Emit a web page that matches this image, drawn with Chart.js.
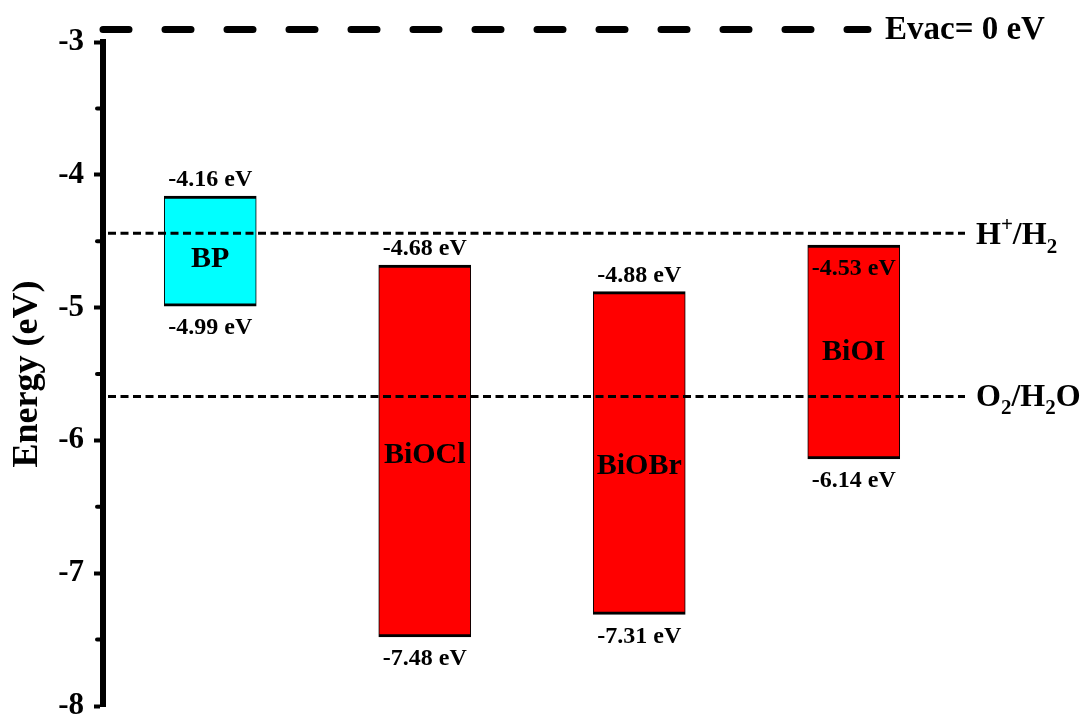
<!DOCTYPE html>
<html><head><meta charset="utf-8">
<script src="https://cdn.jsdelivr.net/npm/chart.js@4"></script>
<style>html,body{margin:0;padding:0;background:#fff}#wrap{width:1092px;height:719px;position:relative}</style>
</head><body><div id="wrap"><canvas id="c"></canvas></div>
<script>
// ---- data ----
const materials = ['BP', 'BiOCl', 'BiOBr', 'BiOI'];
const cbEdges = [-4.16, -4.68, -4.88, -4.53];   // conduction band (top of box)
const vbEdges = [-4.99, -7.48, -7.31, -6.14];   // valence band (bottom of box)
const yTickValues = [-3, -4, -5, -6, -7, -8];
const redoxLevels = [-4.44, -5.67];
const redoxNames = ['H+/H2', 'O2/H2O'];
const vacuumLabel = 'Evac= 0 eV';
const axisTitle = 'Energy (eV)';

// ---- styles / layout (not data) ----
const FONT = "'Liberation Serif', 'Times New Roman', serif";
const boxColors = ['#00FFFF', '#FF0000', '#FF0000', '#FF0000'];
const topLabelInside = [false, false, false, true];
const nameOffsets = [8, 4, 13, 0];
const vacuumDrawLevel = -2.905;

const annot = {
  id: 'annot',
  afterDraw(chart) {
    const ctx = chart.ctx, y = chart.scales.y, area = chart.chartArea;
    const meta = chart.getDatasetMeta(0);
    ctx.save();
    // minor ticks
    ctx.strokeStyle = '#000'; ctx.lineWidth = 4; ctx.lineCap = 'round';
    for (let v = -3.5; v > -8; v -= 1) {
      const py = y.getPixelForValue(v);
      ctx.beginPath(); ctx.moveTo(area.left - 6, py); ctx.lineTo(area.left, py); ctx.stroke();
    }
    // redox dashed lines
    ctx.lineWidth = 3; ctx.lineCap = 'butt'; ctx.setLineDash([8, 4.5]);
    redoxLevels.forEach(v => {
      const py = y.getPixelForValue(v);
      ctx.beginPath(); ctx.moveTo(area.left + 5, py); ctx.lineTo(area.right + 4, py); ctx.stroke();
    });
    // vacuum level line
    ctx.lineWidth = 7; ctx.lineCap = 'round'; ctx.setLineDash([26, 36]);
    const vy = y.getPixelForValue(vacuumDrawLevel);
    ctx.beginPath(); ctx.moveTo(area.left, vy); ctx.lineTo(area.right - 93, vy); ctx.stroke();
    ctx.setLineDash([]);
    ctx.fillStyle = '#000';
    ctx.textBaseline = 'middle'; ctx.textAlign = 'left';
    ctx.font = 'bold 33px ' + FONT;
    ctx.fillText(vacuumLabel, area.right - 76, vy + 1);

    // redox labels with super/subscripts
    function drawParts(parts, x, yy) {
      parts.forEach(p => {
        const size = p.s ? 21 : 32;
        ctx.font = 'bold ' + size + 'px ' + FONT;
        const dy = p.s === 'sup' ? -11 : (p.s === 'sub' ? 11 : 0);
        ctx.fillText(p.t, x, yy + dy);
        x += ctx.measureText(p.t).width;
      });
    }
    const hy = y.getPixelForValue(redoxLevels[0]);
    drawParts([{t: 'H'}, {t: '+', s: 'sup'}, {t: '/H'}, {t: '2', s: 'sub'}], area.right + 15, hy + 3);
    const oy = y.getPixelForValue(redoxLevels[1]);
    drawParts([{t: 'O'}, {t: '2', s: 'sub'}, {t: '/H'}, {t: '2', s: 'sub'}, {t: 'O'}], area.right + 15, oy + 1);

    // band-edge values and material names
    ctx.textAlign = 'center';
    meta.data.forEach((bar, i) => {
      const x = bar.x;
      const pt = y.getPixelForValue(cbEdges[i]);
      const pb = y.getPixelForValue(vbEdges[i]);
      ctx.font = 'bold 24px ' + FONT;
      ctx.fillText(cbEdges[i].toFixed(2) + ' eV', x, topLabelInside[i] ? pt + 24 : pt - 16);
      ctx.fillText(vbEdges[i].toFixed(2) + ' eV', x, pb + 22);
      ctx.font = 'bold 30px ' + FONT;
      ctx.fillText(materials[i], x, (pt + pb) / 2 + nameOffsets[i]);
    });
    ctx.restore();
  }
};

new Chart(document.getElementById('c'), {
  type: 'bar',
  data: {
    labels: materials,
    datasets: [{
      data: materials.map((m, i) => [vbEdges[i], cbEdges[i]]),
      backgroundColor: boxColors,
      borderColor: '#000',
      borderWidth: {top: 3, bottom: 3, left: 1, right: 1},
      borderSkipped: false,
      barThickness: 92
    }]
  },
  options: {
    responsive: true,
    maintainAspectRatio: false,
    animation: false,
    layout: {padding: {top: 42, right: 131, bottom: 13, left: 0}},
    plugins: {legend: {display: false}, tooltip: {enabled: false}},
    scales: {
      x: {display: false, grid: {display: false}},
      y: {
        min: -8, max: -3,
        afterFit(s) { s.width = 103; s.paddingTop = 0; s.paddingBottom = 0; },
        afterBuildTicks(s) { s.ticks = yTickValues.map(v => ({value: v})); },
        border: {display: true, color: '#000', width: 6},
        grid: {display: true, drawOnChartArea: false, drawTicks: true, tickLength: 9, tickWidth: 4, tickColor: '#000'},
        ticks: {color: '#000', padding: 10, font: {family: FONT, size: 31, weight: 'bold', lineHeight: 0.9},
                callback: v => String(v)},
        title: {display: true, text: axisTitle, color: '#000', padding: {top: 6, bottom: 0},
                font: {family: FONT, size: 36, weight: 'bold'}}
      }
    }
  },
  plugins: [annot]
});
</script>
</body></html>
